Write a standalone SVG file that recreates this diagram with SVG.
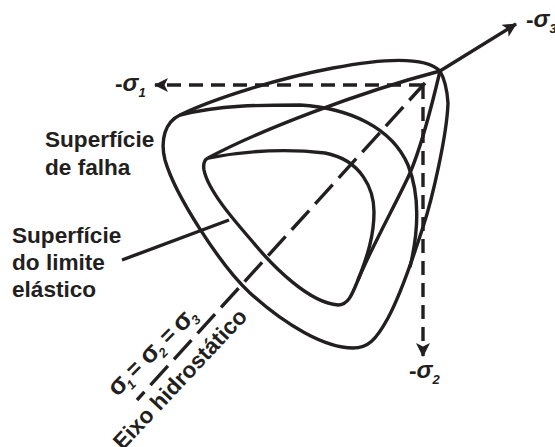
<svg xmlns="http://www.w3.org/2000/svg" width="555" height="447" viewBox="0 0 555 447">
<style>
.c{fill:none;stroke:#231f20;stroke-width:3.4;stroke-linejoin:round}
.d{stroke-dasharray:14 8}
.t{font-family:"Liberation Sans",Arial,sans-serif;font-weight:bold;font-size:22.6px;fill:#231f20}
.s{font-style:italic;font-size:24px}
.g{font-size:26px}
.u{font-size:13px;font-style:italic}
</style>
<defs><marker id="b" markerWidth="14" markerHeight="14" refX="13" refY="7" orient="auto" markerUnits="userSpaceOnUse" viewBox="0 0 14 14"><path d="M0 0L14 7L0 14L3.5 7Z" fill="#231f20"/></marker></defs>
<g id="connectors">
<path class="c" d="M440 71L516 24" marker-end="url(#b)"/>
<path class="c d" d="M423 85H155" marker-end="url(#b)"/>
<path class="c d" d="M423 85V356" marker-end="url(#b)"/>
<path class="c" d="M137 400L425 83" stroke-dasharray="26 9" stroke-dashoffset="15"/>
<path class="c" d="M122 260L229 220"/>
</g>
<g id="surface-failure">
<path class="c" d="M440 71C425 56 385 58 333 68C280 78 215 98 180 115C165 122 160 140 165 160C175 195 220 265 250 293C285 325 325 348 353 348C368 348 376 340 388 318C402 292 414 255 423 227C432 200 447 135 448 103C447 88 444 78 440 71Z"/>
<path class="c" d="M180 115C220 105 260 105 300 105C350 108 392 128 408 165C418 190 420 225 410 267"/>
<path class="c" d="M440 71C360 92 260 130 208 158"/>
</g>
<g id="surface-yield">
<path class="c" d="M208 158C250 150 290 149 325 153C362 160 374 190 374 212C374 235 368 255 358 280"/>
<path class="c" d="M440 71C432 105 422 145 410 173C398 200 375 240 358 280C352 295 348 305 338 305C310 303 274 268 252 241C232 218 208 190 204 170C203 164 204 160 208 158"/>
</g>
<g id="labels">
<text class="t" x="45" y="147">Superfície</text>
<text class="t" x="45" y="175">de falha</text>
<text class="t" x="12" y="243">Superfície</text>
<text class="t" x="12" y="270">do limite</text>
<text class="t" x="12" y="297">elástico</text>
<text class="t" x="115" y="91"><tspan>-</tspan><tspan class="s">σ</tspan><tspan class="u" dy="6">1</tspan></text>
<text class="t" x="526" y="27"><tspan>-</tspan><tspan class="s">σ</tspan><tspan class="u" dy="6">3</tspan></text>
<text class="t" x="409" y="378"><tspan>-</tspan><tspan class="s">σ</tspan><tspan class="u" dy="6">2</tspan></text>
<text class="t" transform="translate(117.3 397.6) rotate(-45)"><tspan class="g" x="0" y="0">σ</tspan><tspan class="u" x="15.4" y="5">1</tspan><tspan x="25.5" y="-1">=</tspan><tspan class="g" x="45" y="0">σ</tspan><tspan class="u" x="60.7" y="5">2</tspan><tspan x="73" y="-1">=</tspan><tspan class="g" x="91" y="0">σ</tspan><tspan class="u" x="107" y="5">3</tspan></text>
<text class="t" transform="translate(122.7 451) rotate(-46.7)">Eixo hidrostático</text>
</g>
</svg>
